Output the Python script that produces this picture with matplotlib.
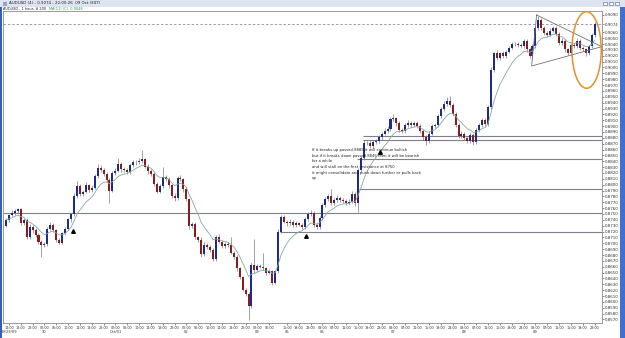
import matplotlib
matplotlib.use("Agg")
import matplotlib.pyplot as plt
from matplotlib.patches import Ellipse, Rectangle
import numpy as np
import pandas as pd

# ---------------- data (prices in pips, 0.8750 -> 8750) ----------------
first_open_pips = 8730
closes_pips = [
    8740, 8748, 8752, 8755, 8758, 8735, 8740, 8711, 8728, 8722,
    8714, 8703, 8697, 8699, 8725, 8731, 8723, 8706, 8701, 8717,
    8725, 8741, 8750, 8781, 8797, 8784, 8788, 8799, 8791, 8795,
    8815, 8828, 8825, 8818, 8808, 8790, 8820, 8824, 8835, 8826,
    8825, 8822, 8834, 8838, 8839, 8840, 8843, 8831, 8823, 8818,
    8802, 8788, 8798, 8813, 8810, 8799, 8781, 8777, 8811, 8809,
    8792, 8775, 8729, 8733, 8710, 8706, 8682, 8697, 8694, 8689,
    8673, 8711, 8703, 8695, 8699, 8697, 8684, 8677, 8657, 8642,
    8621, 8614, 8593, 8663, 8654, 8661, 8660, 8657, 8650, 8652,
    8633, 8652, 8720, 8745, 8737, 8734, 8737, 8731, 8734, 8732,
    8728, 8741, 8750, 8752, 8731, 8728, 8743, 8765, 8775, 8780,
    8769, 8774, 8778, 8774, 8772, 8768, 8771, 8784, 8768, 8825,
    8845, 8871, 8872, 8866, 8873, 8875, 8881, 8887, 8892, 8895,
    8912, 8913, 8905, 8893, 8892, 8902, 8906, 8902, 8905, 8900,
    8892, 8881, 8875, 8887, 8900, 8902, 8917, 8929, 8938, 8943,
    8936, 8921, 8902, 8883, 8887, 8879, 8875, 8885, 8873, 8893,
    8902, 8910, 8904, 8933, 8996, 9024, 9016, 9024, 9019, 9027,
    9034, 9040, 9040, 9038, 9037, 9046, 9031, 9019, 9036, 9067,
    9081, 9067, 9059, 9055, 9063, 9067, 9058, 9042, 9046, 9031,
    9025, 9038, 9036, 9046, 9034, 9031, 9024, 9036, 9055, 9074,
]
upper_wick = [
    3, 2, 4, 3, 3, 2, 4, 3, 5, 3,
    4, 3, 2, 3, 3, 5, 4, 2, 3, 3,
    3, 3, 2, 4, 9, 4, 3, 5, 3, 4,
    4, 8, 6, 3, 4, 3, 3, 4, 10, 3,
    4, 3, 3, 4, 3, 5, 16, 3, 4, 3,
    3, 3, 4, 18, 4, 3, 3, 4, 3, 5,
    3, 4, 3, 4, 3, 3, 4, 5, 3, 3,
    3, 4, 5, 3, 4, 3, 14, 3, 3, 3,
    3, 3, 3, 5, 44, 4, 4, 23, 3, 4,
    3, 3, 5, 4, 4, 3, 5, 3, 4, 3,
    3, 4, 3, 5, 3, 3, 4, 3, 4, 4,
    12, 3, 4, 3, 3, 3, 4, 5, 3, 4,
    4, 5, 3, 4, 3, 3, 4, 3, 4, 5,
    4, 8, 3, 3, 4, 3, 4, 3, 3, 4,
    3, 3, 3, 4, 3, 3, 4, 3, 4, 6,
    8, 3, 3, 3, 4, 3, 3, 4, 3, 3,
    3, 4, 3, 3, 4, 3, 5, 3, 4, 3,
    3, 4, 3, 3, 4, 3, 3, 3, 4, 4,
    7, 3, 3, 3, 4, 3, 3, 3, 4, 3,
    3, 4, 3, 4, 3, 3, 3, 3, 4, 3,
]
lower_wick = [
    3, 3, 2, 3, 3, 4, 3, 3, 3, 4,
    3, 4, 20, 3, 4, 3, 3, 4, 3, 3,
    3, 3, 4, 3, 3, 3, 4, 3, 4, 3,
    3, 3, 4, 3, 3, 22, 3, 3, 3, 4,
    3, 3, 3, 3, 4, 3, 3, 3, 4, 3,
    4, 3, 3, 3, 3, 4, 3, 5, 3, 3,
    4, 3, 4, 3, 3, 4, 5, 3, 3, 4,
    4, 3, 3, 3, 3, 4, 3, 3, 4, 3,
    3, 4, 24, 3, 4, 3, 3, 3, 4, 3,
    5, 3, 3, 3, 3, 4, 3, 4, 3, 3,
    4, 3, 3, 3, 4, 3, 3, 3, 3, 3,
    3, 4, 3, 3, 4, 3, 3, 3, 4, 14,
    3, 3, 4, 3, 3, 3, 3, 4, 3, 3,
    3, 3, 4, 3, 3, 3, 3, 4, 3, 3,
    3, 4, 7, 3, 3, 3, 3, 3, 3, 3,
    3, 3, 3, 4, 3, 3, 4, 3, 5, 3,
    3, 3, 4, 3, 3, 3, 4, 3, 3, 3,
    3, 3, 4, 3, 3, 3, 4, 3, 4, 3,
    3, 3, 4, 3, 3, 3, 4, 3, 3, 4,
    4, 3, 3, 3, 4, 3, 4, 3, 3, 3,
]

hour_tick_bars = list(range(1, 90, 4)) + list(range(95, 200, 4))
hour_labels = (["14:00", "18:00", "22:00", "02:00", "06:00", "10:00"] * 4)[:23] + \
              (["15:00", "19:00", "23:00", "03:00", "07:00", "11:00"] * 5)[:27]
date_tick_bars = [1, 13, 37, 61, 85, 95, 107, 131, 155, 179]
date_labels = ["09/29/09", "30", "Oct/01", "02", "03", "05", "06", "07", "08", "09"]

level_prices = [0.8751, 0.8719, 0.8792, 0.8844, 0.8876, 0.8883]
current_price = 0.9074
note_lines = [
    "If it breaks up passed 8885 it will continue bullish",
    "but if it breaks down passed 8845 then it will be bearish",
    "for a while",
    "and will stall on the first resistance at 8750",
    "it might consolidate and push down further or pulls back",
    "up",
]

# ---------------- derived series ----------------
closes = np.array(closes_pips) / 10000.0
opens = np.concatenate([[first_open_pips / 10000.0], closes[:-1]])
highs = np.maximum(opens, closes) + np.array(upper_wick) / 10000.0
lows = np.minimum(opens, closes) - np.array(lower_wick) / 10000.0
idx = np.arange(len(closes))
ma = pd.Series(closes).ewm(span=9, adjust=False).mean()

# ---------------- figure ----------------
W, H = 625, 338
fig = plt.figure(figsize=(W / 100, H / 100), dpi=100)
fig.patch.set_facecolor("white")

def fx(px):
    return px / W

def fy(py):
    return 1 - py / H

ax = fig.add_axes([fx(3), fy(323), fx(601.7) - fx(3), fy(11) - fy(323)])
ax.set_facecolor("white")
ax.set_xlim(-1.0, 201.4)
ax.set_ylim(0.85640, 0.90964)

# wicks
ax.vlines(idx, lows, highs, color="#7c7c7c", linewidth=0.5, zorder=2)
# bodies
up = closes > opens
colors = np.where(up, "#1d2a94", "#8a1c1c")
body_h = np.maximum(np.abs(closes - opens), 0.00006)
ax.bar(idx, body_h, bottom=np.minimum(opens, closes), width=0.68,
       color=colors, linewidth=0, zorder=3)

# moving average
ax.plot(idx, ma, color="#86a6a6", linewidth=0.6, zorder=4)

# support / resistance lines
level_start = [-1.0, 92.6, 119.5, 118.7, 120.6, 120.6]
for lv, st in zip(level_prices, level_start):
    ax.hlines(lv, st, 201.4, color="#7f7f8e", linewidth=0.8, zorder=1)

# current price dashed line
ax.axhline(current_price, color="#9a9ab4", linewidth=0.7, linestyle=(0, (2.5, 2)), zorder=1)

# triangle
tri_x = [179.4, 177.7, 201.4, 179.4]
tri_y = [0.90896, 0.90026, 0.90355, 0.90896]
ax.plot(tri_x, tri_y, color="#70707e", linewidth=0.6, zorder=5)

# arrows
ax.plot([22.5, 101.4, 126.4], [0.87215, 0.87125, 0.8856], marker="^",
        linestyle="none", color="black", markersize=2.6, zorder=6)

# note text
ax.text(103.4, 0.88625, "\n".join(note_lines), fontsize=2.7, color="#202020",
        va="top", ha="left", linespacing=1.55, zorder=7, family="DejaVu Sans")

# orange ellipse
ax.add_patch(Ellipse((196.3, 0.90299), 9.9, 0.01307, fill=False,
                     edgecolor="#e58f2c", linewidth=1.1, zorder=8, clip_on=False))

# right price axis
yt = [round(0.8570 + 0.001 * k, 4) for k in range(53)]
yt = [v for v in yt if v not in (0.9070, 0.9080)] + [current_price]
ax.yaxis.tick_right()
ax.set_yticks(yt, [f"{v:.4f}" for v in yt])
for lbl, v in zip(ax.get_yticklabels(), yt):
    if v == current_price:
        lbl.set_color("#2a3fd0")
ax.tick_params(axis="y", labelsize=2.9, length=1.5, width=0.4, pad=0.8,
               colors="#333333")

# bottom time axis
ax.set_xticks(hour_tick_bars, hour_labels)
ax.tick_params(axis="x", labelsize=2.45, length=1.2, width=0.4, pad=0.8,
               colors="#333333")
for b, lab in zip(date_tick_bars, date_labels):
    ax.text(b, -0.028, lab, transform=ax.get_xaxis_transform(), fontsize=2.6,
            ha="center", va="center", color="#333333")

for s in ax.spines.values():
    s.set_color("#8c8c8c")
    s.set_linewidth(0.6)

# ---------------- window chrome ----------------
fig.add_artist(Rectangle((0, fy(6.5)), 1, 6.5 / H, transform=fig.transFigure,
                         facecolor="#dde4ef", edgecolor="none", zorder=0))
fig.add_artist(Rectangle((fx(2.5), fy(5.5)), 4.5 / W, 4 / H, transform=fig.transFigure,
                         facecolor="#8fa8c8", edgecolor="none"))
fig.text(fx(9), fy(3.3), "AUDUSD (4) - 0.9074 - 22:00:26  09 Oct (EST)", fontsize=2.9,
         va="center", ha="left", color="#202020")
fig.text(fx(3), fy(8.8), "AUDUSD , 1 hour, # 200", fontsize=2.5, va="center",
         ha="left", color="#202020")
fig.text(fx(49), fy(8.8), "MA(11) (C)  0.9048", fontsize=2.5, va="center",
         ha="left", color="#2e9a3c")
for bx in (603, 609, 615):
    fig.add_artist(Rectangle((fx(bx), fy(5)), 4 / W, 3.5 / H, transform=fig.transFigure,
                             facecolor="#f4f6fa", edgecolor="#5a6a88", linewidth=0.4))
# left and right blue borders
fig.add_artist(Rectangle((0, 0), 2 / W, fy(6.5), transform=fig.transFigure,
                         facecolor="#2f5fbf", edgecolor="none"))
fig.add_artist(Rectangle((fx(619.5), 0), 5.5 / W, fy(6.5), transform=fig.transFigure,
                         facecolor="#3d70d2", edgecolor="none"))

fig.savefig("out.png", dpi=100, facecolor="white")
